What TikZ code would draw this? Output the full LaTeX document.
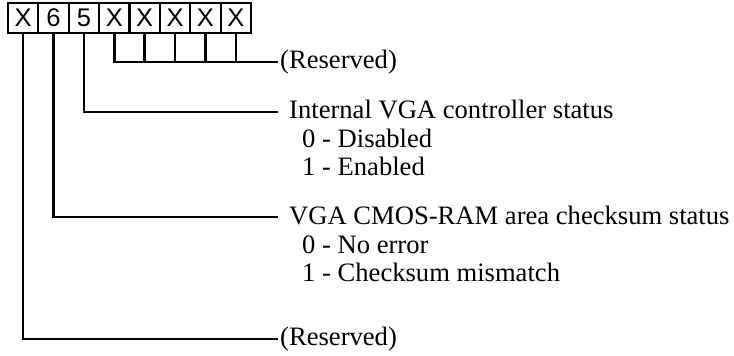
\documentclass[tikz,border=0pt]{standalone}
\usepackage{fontspec}
\setmainfont{Liberation Serif}
\setsansfont{Liberation Sans}
\begin{document}
\begin{tikzpicture}[x=1pt,y=-1pt,
  cell/.style={draw,line width=2.2pt,minimum width=30.375pt,minimum height=30pt,
    inner sep=0pt,outer sep=0pt,font=\fontsize{25.5}{25.5}\sffamily},
  wire/.style={line width=2.4pt},
  lbl/.style={anchor=base west,inner sep=0pt,font=\fontsize{26.6}{28}\selectfont}]
\useasboundingbox (0,0) rectangle (734,356);
% register cells
\foreach \t/\n [count=\i from 0] in {X/c7,6/c6,5/c5,X/c4,X/c3,X/c2,X/c1,X/c0}
  \node[cell] (\n) at ({8+30.375*(\i+0.5)},18) {\t};
% connector end points
\coordinate (e0) at (278,62);
\coordinate (e5) at (278,112);
\coordinate (e6) at (278,217);
\coordinate (e7) at (278,339);
% connectors
\draw[wire] (c4.south) |- (e0);
\foreach \n in {c3,c2,c1,c0}
  \draw[wire] (\n.south) -- (\n.south |- e0);
\draw[wire] (c5.south) |- (e5);
\draw[wire] (c6.south) |- (e6);
\draw[wire] (c7.south) |- (e7);
% labels
\node[lbl] (t0) at (280,68.5) {(Reserved)};
\node[lbl] (t5) at (289,118.5) {Internal VGA controller status};
\node[lbl] (t5a) at (302,147) {0 - Disabled};
\node[lbl] (t5b) at (302,175.5) {1 - Enabled};
\node[lbl] (t6) at (289,224.5) {VGA CMOS-RAM area checksum status};
\node[lbl] (t6a) at (302,253) {0 - No error};
\node[lbl] (t6b) at (302,281.5) {1 - Checksum mismatch};
\node[lbl] (t7) at (280,345.5) {(Reserved)};
\end{tikzpicture}
\end{document}
